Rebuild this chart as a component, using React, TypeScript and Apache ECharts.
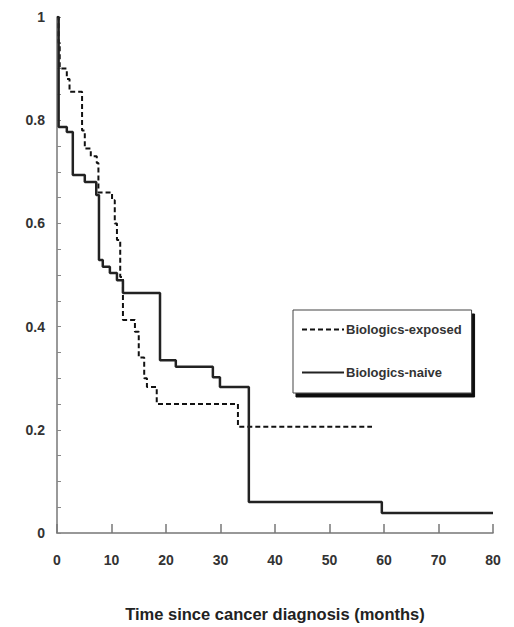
import React, { useEffect, useRef } from "react";
import * as echarts from "echarts";

const xTicks = [0, 10, 20, 30, 40, 50, 60, 70, 80];
const yTickLabels = ["0", "0.2", "0.4", "0.6", "0.8", "1"];

const exposedTimes = [0, 0.3, 0.5, 1.8, 2.3, 4.6, 5.1, 6.2, 7.3, 7.6, 10.1, 10.6, 11.0, 11.6, 12.1, 14.3, 15.0, 16.0, 16.5, 18.3, 33.2, 57.8];
const exposedSurv = [1, 0.95, 0.9, 0.88, 0.855, 0.78, 0.745, 0.73, 0.717, 0.66, 0.645, 0.6, 0.568, 0.496, 0.413, 0.39, 0.34, 0.3, 0.283, 0.25, 0.206, 0.206];

const naiveTimes = [0, 0.3, 1.8, 2.9, 5.1, 7.2, 7.7, 8.4, 9.7, 11.0, 12.1, 18.9, 21.8, 28.6, 29.9, 35.2, 59.6, 80];
const naiveSurv = [1, 0.787, 0.777, 0.694, 0.68, 0.655, 0.529, 0.516, 0.504, 0.49, 0.465, 0.335, 0.322, 0.302, 0.283, 0.06, 0.039, 0.039];

const seriesNames = ["Biologics-exposed", "Biologics-naive"];
const xTitle = "Time since cancer diagnosis (months)";

export default function App() {
  const ref = useRef<HTMLDivElement>(null);
  useEffect(() => {
    if (!ref.current) return;
    const chart = echarts.init(ref.current, null, { renderer: "svg" });
    const font = "'Liberation Sans', Arial, sans-serif";
    chart.setOption({
      animation: false,
      backgroundColor: "#fff",
      grid: { left: 57, right: 21, top: 17, bottom: 94 },
      xAxis: {
        type: "value",
        min: xTicks[0],
        max: xTicks[xTicks.length - 1],
        interval: 10,
        splitLine: { show: false },
        axisLine: { lineStyle: { color: "#777", width: 1.5 } },
        axisTick: { inside: true, length: 9, lineStyle: { color: "#777", width: 1.5 } },
        axisLabel: { margin: 20, color: "#333", fontSize: 14, fontWeight: "bold", fontFamily: font },
        name: xTitle,
        nameLocation: "middle",
        nameGap: 72,
        nameTextStyle: { color: "#222", fontSize: 16.5, fontWeight: "bold", fontFamily: font },
      },
      yAxis: {
        type: "value",
        min: 0,
        max: 1,
        interval: 0.05,
        splitLine: { show: false },
        axisLine: { show: true, lineStyle: { color: "#777", width: 1.5 } },
        axisTick: { show: true, inside: true, length: 4, lineStyle: { color: "#888", width: 1 } },
        axisLabel: {
          margin: 12,
          color: "#333",
          fontSize: 14,
          fontWeight: "bold",
          fontFamily: font,
          formatter: (v: number) => {
            const k = v / 0.2;
            const r = Math.round(k);
            return Math.abs(k - r) < 1e-6 ? yTickLabels[r] ?? "" : "";
          },
        },
      },
      legend: {
        orient: "vertical",
        left: 293,
        top: 310,
        padding: [13, 10, 14, 8],
        itemGap: 30,
        itemWidth: 42,
        itemHeight: 14,
        backgroundColor: "#fff",
        borderColor: "#444",
        borderWidth: 1,
        borderRadius: 0,
        shadowColor: "#111",
        shadowBlur: 0,
        shadowOffsetX: 3,
        shadowOffsetY: 4,
        itemStyle: { opacity: 0 },
        textStyle: { color: "#333", fontSize: 13, fontWeight: "bold", fontFamily: font, padding: [0, 0, 0, -3] },
        data: seriesNames,
      },
      series: [
        {
          name: seriesNames[0],
          type: "line",
          step: "end",
          symbol: "none",
          lineStyle: { color: "#111", width: 2, type: [5, 3] },
          itemStyle: { color: "#111" },
          data: exposedTimes.map((t, i) => [t, exposedSurv[i]]),
        },
        {
          name: seriesNames[1],
          type: "line",
          step: "end",
          symbol: "none",
          lineStyle: { color: "#222", width: 2.5 },
          itemStyle: { color: "#222" },
          data: naiveTimes.map((t, i) => [t, naiveSurv[i]]),
        },
      ],
    });
    return () => chart.dispose();
  }, []);
  return <div ref={ref} style={{ width: 514, height: 627, position: "absolute", left: 0, top: 0 }} />;
}
